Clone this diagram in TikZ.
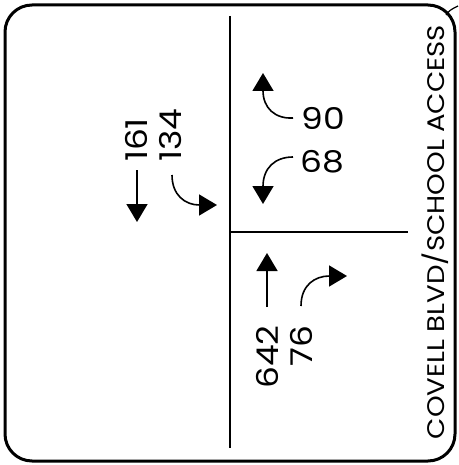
\documentclass[tikz,border=0pt]{standalone}
\usepackage{fontspec}
\setmainfont{Poppins}
\newfontfamily\numfont[FakeStretch=1.15]{Poppins}
\newfontfamily\streetfont[FakeStretch=1.15]{Poppins}
\usetikzlibrary{arrows.meta}
\begin{document}
\begin{tikzpicture}[x=1pt,y=-1pt,
  frame/.style={line width=3pt,rounded corners=27pt},
  road/.style={line width=2pt},
  mv/.style={line width=1.6pt,-{Triangle[length=18pt,width=21pt]}},
  vol/.style={font=\numfont\fontsize{30}{30}\selectfont,inner sep=0pt},
  rvol/.style={vol,rotate=90},
  street/.style={font=\streetfont\fontsize{24}{24}\selectfont,inner sep=0pt,rotate=90}]
\useasboundingbox (0,0) rectangle (458,465);
\draw[frame] (5,5) rectangle (455,461);
% leader tick at top right
\coordinate (t1) at (446,15);
\coordinate (t2) at (458,6);
\draw[line width=1.2pt] (t1) .. controls (450,10) .. (t2);
% roads
\coordinate (vn) at (230,16);
\coordinate (vs) at (230,448);
\coordinate (hw) at (230,232);
\coordinate (he) at (408,232);
\draw[road] (vn) -- (vs);
\draw[road] (hw) -- (he);
% southbound (left)
\node[rvol] (n161) at (136,140) {161};
\node[rvol] (n134) at (171,135) {134};
\coordinate (a1s) at (137,170);
\coordinate (a1e) at (137,222);
\draw[mv] (a1s) -- (a1e);
\coordinate (a2s) at (172,175);
\coordinate (a2e) at (217,205);
\draw[mv] (a2s) .. controls (172,195) and (185,205) .. (a2e);
% upper right
\node[vol] (n90) at (323,118) {90};
\node[vol] (n68) at (322,162) {68};
\coordinate (a3s) at (293,118);
\coordinate (a3e) at (263,73);
\draw[mv] (a3s) .. controls (275,119) and (263,108) .. (a3e);
\coordinate (a4s) at (293,157);
\coordinate (a4e) at (263,204);
\draw[mv] (a4s) .. controls (275,157) and (263,168) .. (a4e);
% lower right
\node[rvol] (n642) at (267,357) {642};
\node[rvol] (n76) at (301,346) {76};
\coordinate (a5s) at (267,307);
\coordinate (a5e) at (267,253);
\draw[mv] (a5s) -- (a5e);
\coordinate (a6s) at (301,306);
\coordinate (a6e) at (347,276);
\draw[mv] (a6s) .. controls (301,285) and (315,276) .. (a6e);
% street name
\node[street] (st) at (435,232) {COVELL BLVD/SCHOOL ACCESS};
\end{tikzpicture}
\end{document}
